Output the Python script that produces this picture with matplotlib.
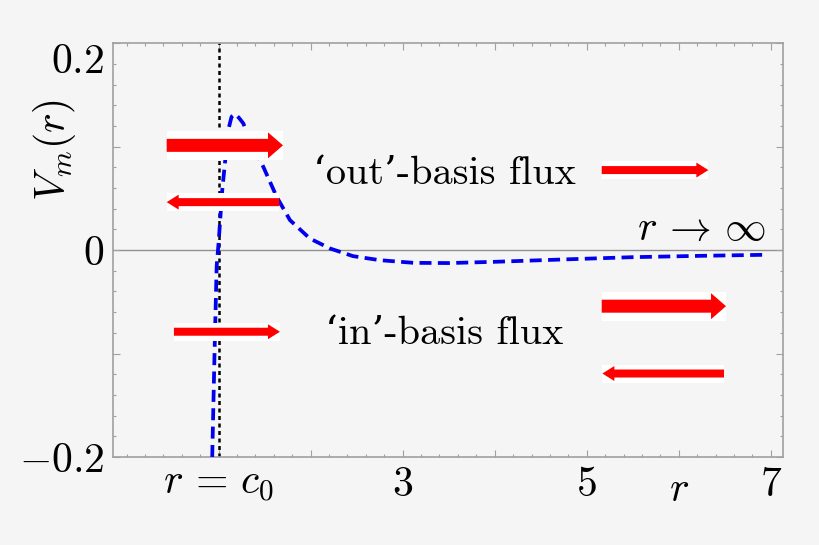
import matplotlib
matplotlib.use('Agg')
import matplotlib.pyplot as plt
from matplotlib.patches import Rectangle
from matplotlib.ticker import MultipleLocator

plt.rcParams['mathtext.fontset'] = 'cm'
plt.rcParams['font.family'] = ['cmr10', 'DejaVu Serif']
plt.rcParams['axes.unicode_minus'] = False

# curve V_m(r)
r_vals = [0.93, 0.955, 0.978, 1.0, 1.014, 1.039, 1.068, 1.104, 1.14, 1.177, 1.22,
          1.267, 1.359, 1.485, 1.63, 1.775, 1.99, 2.21, 2.46, 2.75, 3.12, 3.5,
          4.0, 4.75, 5.5, 6.25, 6.95]
v_vals = [-0.2, -0.1, -0.016, 0.008, 0.026, 0.058, 0.084, 0.116, 0.129, 0.1316, 0.128,
          0.1226, 0.103, 0.0806, 0.0516, 0.029, 0.0113, 0.0016, -0.0058, -0.0097, -0.0123, -0.0125,
          -0.0113, -0.009, -0.0068, -0.0055, -0.0045]
c0 = 1.0

# flux arrows: tail, tip, height, thick?
arrow_tail = [0.435, 1.659, 0.514, 5.163, 5.163, 6.492]
arrow_tip = [1.699, 0.435, 1.666, 6.322, 6.514, 5.170]
arrow_y = [0.1013, 0.0464, -0.0789, 0.0774, -0.0542, -0.1193]
arrow_thick = [True, False, False, False, True, False]

xticks = [1, 2, 3, 4, 5, 6, 7]
xticklabels = [r'$r\,=\,c_0$', '', '$3$', '', '$5$', '', '$7$']
yticks = [-0.2, -0.1, 0, 0.1, 0.2]
yticklabels = ['$-0.2$', '', '$0$', '', '$0.2$']

bg = '#f5f5f5'
frame = '#a0a0a0'
fs = 30

fig = plt.figure(figsize=(8.2, 5.45), dpi=100, facecolor=bg)
ax = fig.add_axes([0.1374, 0.1615, 0.9553 - 0.1374, 0.9206 - 0.1615], facecolor=bg)
xlim = (-0.152, 7.137)
ylim = (-0.2, 0.2)
ax.set_xlim(*xlim)
ax.set_ylim(*ylim)

# pixels per data unit
W = 820 * (0.9553 - 0.1374)
H = 545 * (0.9206 - 0.1615)
pxx = W / (xlim[1] - xlim[0])
pxy = H / (ylim[1] - ylim[0])

ax.axhline(0, color='#909090', lw=1.0, zorder=1)
ax.axvline(c0, color='black', lw=1.8, ls=(0, (1.6, 1.4)), zorder=2)
ax.plot(r_vals, v_vals, color='#0000ee', lw=2.7, ls=(0, (3.2, 1.7)), zorder=3)

for x0, x1, y, thick in zip(arrow_tail, arrow_tip, arrow_y, arrow_thick):
    if thick:
        sh, hh, hl = 13, 26, 15
    else:
        sh, hh, hl = 8, 15, 12
    bh = (hh + 3) / pxy
    ax.add_patch(Rectangle((min(x0, x1), y - bh / 2), abs(x1 - x0), bh,
                           facecolor='white', edgecolor='none', zorder=4))
    ax.arrow(x0, y, x1 - x0, 0, width=sh / pxy, head_width=hh / pxy,
             head_length=hl / pxx, length_includes_head=True,
             color='#ff0000', lw=0, zorder=5)

ax.text(2.02, 0.0639, '‘out’-basis flux', fontsize=29, ha='left', va='baseline')
ax.text(2.155, -0.0903, '‘in’-basis flux', fontsize=29, ha='left', va='baseline')
ax.text(6.94, 0.0097, r'$r\,\to\,\infty$', fontsize=fs, ha='right', va='baseline')
ax.annotate('$r$', xy=(6, -0.2), xytext=(0, -32), textcoords='offset points',
            fontsize=fs, ha='center', va='baseline')
ax.text(-0.086, 0.742, '$V_m(r)$', transform=ax.transAxes, rotation=90,
        fontsize=fs, ha='center', va='center')

ax.set_xticks(xticks)
ax.set_xticklabels(xticklabels, fontsize=fs)
ax.set_yticks(yticks)
ax.set_yticklabels(yticklabels, fontsize=fs)
ax.xaxis.set_minor_locator(MultipleLocator(0.2))
ax.yaxis.set_minor_locator(MultipleLocator(0.02))
ax.tick_params(which='both', direction='in', top=True, right=True, color=frame, width=0.8)
ax.tick_params(which='major', length=5)
ax.tick_params(which='minor', length=2.5)
ax.tick_params(axis='x', pad=7)
ax.tick_params(axis='y', pad=6)
ax.get_yticklabels()[-1].set_va('top')
for s in ax.spines.values():
    s.set_color(frame)
    s.set_linewidth(1.2)

fig.savefig('out.png', dpi=100, facecolor=bg)
